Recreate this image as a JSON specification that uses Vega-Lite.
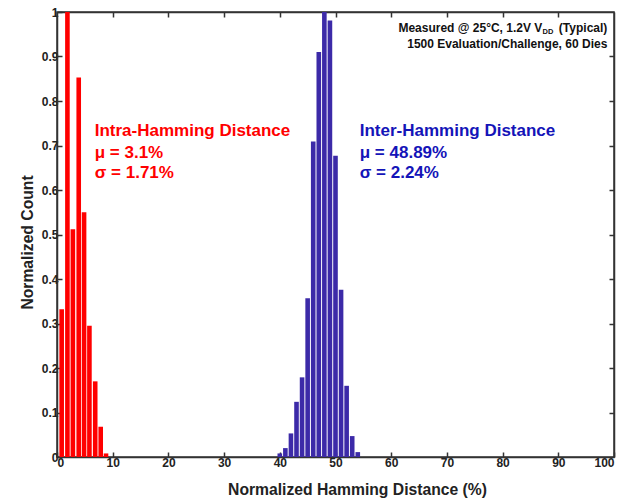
{
  "$schema": "https://vega.github.io/schema/vega-lite/v6.json",
  "width": 557,
  "height": 445,
  "autosize": {"type": "none"},
  "padding": {"left": 57, "top": 12, "right": 14, "bottom": 41},
  "background": "white",
  "config": {
    "font": "Liberation Sans",
    "view": {"stroke": "#333", "strokeWidth": 1.5},
    "axis": {
      "labelFont": "Liberation Sans",
      "labelFontWeight": "bold",
      "labelFontSize": 12,
      "labelColor": "#222",
      "titleFont": "Liberation Sans",
      "titleFontWeight": "bold",
      "titleFontSize": 15.7,
      "titleColor": "#222",
      "domainColor": "#333",
      "domainWidth": 1.5,
      "tickColor": "#333",
      "tickWidth": 1.5,
      "tickSize": -5,
      "grid": false
    }
  },
  "datasets": {
    "bars": [
      {"x": 0.84, "count": 0.332, "series": "Intra"},
      {"x": 1.87, "count": 1.0, "series": "Intra"},
      {"x": 2.85, "count": 0.512, "series": "Intra"},
      {"x": 3.9, "count": 0.853, "series": "Intra"},
      {"x": 4.86, "count": 0.55, "series": "Intra"},
      {"x": 5.82, "count": 0.295, "series": "Intra"},
      {"x": 6.86, "count": 0.17, "series": "Intra"},
      {"x": 7.85, "count": 0.068, "series": "Intra"},
      {"x": 8.8, "count": 0.008, "series": "Intra"},
      {"x": 40, "count": 0.008, "series": "Inter"},
      {"x": 41, "count": 0.02, "series": "Inter"},
      {"x": 42, "count": 0.053, "series": "Inter"},
      {"x": 43, "count": 0.124, "series": "Inter"},
      {"x": 44, "count": 0.179, "series": "Inter"},
      {"x": 45, "count": 0.357, "series": "Inter"},
      {"x": 46, "count": 0.709, "series": "Inter"},
      {"x": 47, "count": 0.91, "series": "Inter"},
      {"x": 48, "count": 1.0, "series": "Inter"},
      {"x": 49, "count": 0.981, "series": "Inter"},
      {"x": 50, "count": 0.677, "series": "Inter"},
      {"x": 51, "count": 0.376, "series": "Inter"},
      {"x": 52, "count": 0.16, "series": "Inter"},
      {"x": 53, "count": 0.047, "series": "Inter"},
      {"x": 54, "count": 0.011, "series": "Inter"}
    ],
    "notes": [
      {"label": "Intra-Hamming Distance", "x": 6.77, "y": 0.7205, "series": "Intra"},
      {"label": "μ = 3.1%", "x": 6.77, "y": 0.672, "series": "Intra"},
      {"label": "σ = 1.71%", "x": 6.77, "y": 0.627, "series": "Intra"},
      {"label": "Inter-Hamming Distance", "x": 54.35, "y": 0.7205, "series": "Inter"},
      {"label": "μ = 48.89%", "x": 54.35, "y": 0.672, "series": "Inter"},
      {"label": "σ = 2.24%", "x": 54.35, "y": 0.627, "series": "Inter"}
    ],
    "header": [
      {"label": "(Typical)", "x": 98.8, "y": 0.9546, "part": "a"},
      {"label": "DD", "x": 98.8, "y": 0.9546, "part": "b"},
      {"label": "Measured @ 25°C, 1.2V V", "x": 98.8, "y": 0.9546, "part": "c"},
      {"label": "1500 Evaluation/Challenge, 60 Dies", "x": 98.8, "y": 0.92, "part": "d"}
    ]
  },
  "layer": [
    {
      "data": {"name": "bars"},
      "mark": {"type": "bar", "size": 4.6},
      "encoding": {
        "x": {
          "field": "x", "type": "quantitative",
          "scale": {"domain": [0, 100], "nice": false, "zero": false, "padding": 0},
          "axis": {"values": [0, 10, 20, 30, 40, 50, 60, 70, 80, 90, 100], "title": "Normalized Hamming Distance (%)", "labelPadding": 5, "titleX": 300, "titleY": 37, "titleBaseline": "alphabetic"}
        },
        "y": {
          "field": "count", "type": "quantitative",
          "scale": {"domain": [0, 1], "nice": false, "padding": 0},
          "axis": {"values": [0, 0.1, 0.2, 0.3, 0.4, 0.5, 0.6, 0.7, 0.8, 0.9, 1], "format": "~g", "title": "Normalized Count", "labelPadding": 4, "titleX": -25, "titleY": 230, "titleBaseline": "alphabetic"}
        },
        "color": {
          "field": "series", "type": "nominal",
          "scale": {"domain": ["Intra", "Inter"], "range": ["#ff0000", "#3c2aa8"]},
          "legend": null
        }
      }
    },
    {
      "data": {"name": "notes"},
      "mark": {"type": "text", "align": "left", "baseline": "alphabetic", "fontSize": 17, "fontWeight": "bold", "font": "Liberation Sans"},
      "encoding": {
        "x": {"field": "x", "type": "quantitative", "axis": {"orient": "top", "values": [10, 20, 30, 40, 50, 60, 70, 80, 90], "labels": false, "title": null}},
        "y": {"field": "count", "type": "quantitative", "axis": {"orient": "right", "values": [0.1, 0.2, 0.3, 0.4, 0.5, 0.6, 0.7, 0.8, 0.9], "labels": false, "title": null}},
        "text": {"field": "label"},
        "color": {
          "field": "series", "type": "nominal",
          "scale": {"domain": ["Intra", "Inter"], "range": ["#ff0000", "#1414b8"]},
          "legend": null
        }
      },
      "transform": [{"calculate": "datum.y", "as": "count"}]
    },
    {
      "data": {"name": "header"},
      "mark": {"type": "text", "align": "right", "baseline": "alphabetic", "fontSize": 12, "fontWeight": "bold", "font": "Liberation Sans", "color": "#111"},
      "encoding": {
        "x": {"field": "x", "type": "quantitative", "axis": null},
        "y": {"field": "y", "type": "quantitative", "axis": null},
        "text": {"field": "label"}
      },
      "transform": [{"filter": "datum.part == 'a' || datum.part == 'd'"}]
    },
    {
      "data": {"name": "header"},
      "mark": {"type": "text", "align": "right", "baseline": "alphabetic", "fontSize": 7.5, "fontWeight": "bold", "font": "Liberation Sans", "color": "#111", "dx": -54, "dy": 2},
      "encoding": {
        "x": {"field": "x", "type": "quantitative", "axis": null},
        "y": {"field": "y", "type": "quantitative", "axis": null},
        "text": {"field": "label"}
      },
      "transform": [{"filter": "datum.part == 'b'"}]
    },
    {
      "data": {"name": "header"},
      "mark": {"type": "text", "align": "right", "baseline": "alphabetic", "fontSize": 12, "fontWeight": "bold", "font": "Liberation Sans", "color": "#111", "dx": -65},
      "encoding": {
        "x": {"field": "x", "type": "quantitative", "axis": null},
        "y": {"field": "y", "type": "quantitative", "axis": null},
        "text": {"field": "label"}
      },
      "transform": [{"filter": "datum.part == 'c'"}]
    }
  ],
  "resolve": {"axis": {"x": "independent", "y": "independent"}, "scale": {"color": "independent"}}
}
